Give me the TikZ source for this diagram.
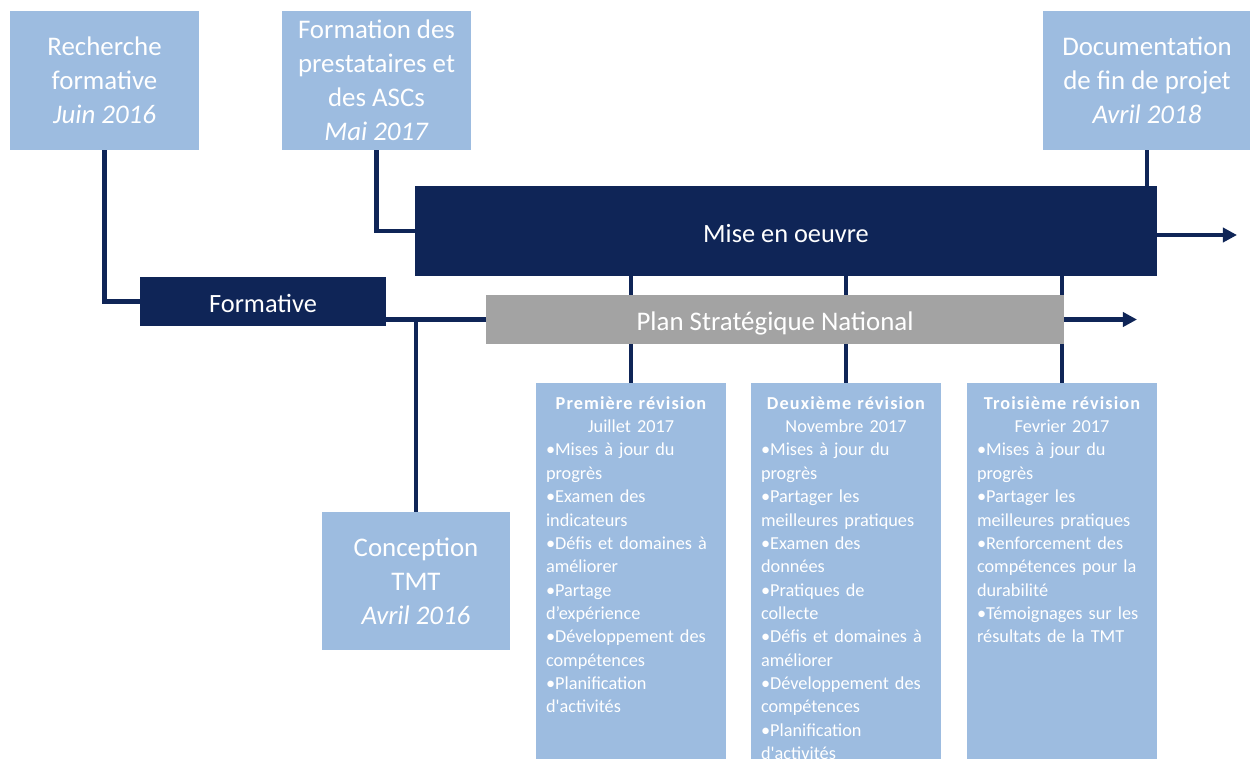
\documentclass[tikz,border=0pt]{standalone}
\usepackage{fontspec}
\setmainfont{Carlito}
\usetikzlibrary{arrows.meta, calc}
\definecolor{navy}{HTML}{0F2557}
\definecolor{lightblue}{HTML}{9DBCE0}
\definecolor{plangray}{HTML}{A3A3A3}
\newcommand{\revtitle}[1]{{\bfseries\addfontfeature{LetterSpace=6}#1}}

\begin{document}
\begin{tikzpicture}[x=0.02cm, y=-0.02cm, >={Triangle[length=8pt,width=8pt]},
	event/.style={fill=lightblue, text=white, inner sep=0pt, align=center,
		minimum width=3.78cm, minimum height=2.78cm,
		font=\fontsize{15.3}{19.3}\selectfont},
	phase/.style={fill=navy, text=white, inner sep=0pt, text height=13pt, text depth=0pt,
		font=\fontsize{15}{18}\selectfont},
	revision/.style={fill=lightblue, text=white, anchor=north, align=left,
		text width=3.4cm, inner xsep=0.2cm, inner ysep=0.26cm, text depth=8cm,
		font=\fontsize{10.4}{13.3}\selectfont},
	link/.style={draw=navy, line width=2.4pt}]
	
	\useasboundingbox (0,0) rectangle (1250,758);
	\clip (0,0) rectangle (1250,758);
	
	%========================
	% Top: events
	%========================
	\node[event] (rech) at (104.5,80.5) {Recherche\\formative\\\textit{Juin 2016}};
	\node[event] (formp) at (376.5,80.5) {Formation des\\prestataires et\\des ASCs\\\textit{Mai 2017}};
	\node[event, minimum width=4.16cm] (doc) at (1147,80.5) {Documentation\\de fin de projet\\\textit{Avril 2018}};
	\node[event, minimum height=2.76cm] (conc) at (416,581) {Conception\\TMT\\\textit{Avril 2016}};
	
	%========================
	% Phases
	%========================
	\node[phase, minimum width=14.84cm, minimum height=1.8cm] (mise) at (786,231) {Mise en oeuvre};
	\node[phase, minimum width=4.92cm, minimum height=0.98cm] (form) at (263,301.5) {Formative};
	\node[phase, fill=plangray, minimum width=11.56cm, minimum height=0.98cm,
		font=\fontsize{15.3}{18}\selectfont] (plan) at (775,319.5) {Plan Stratégique National};
	
	%========================
	% Revisions
	%========================
	\node[revision] (rev1) at (631,383) {\centering\revtitle{Première révision}\\Juillet 2017\par
		\raggedright •Mises à jour du\\progrès\\•Examen des\\indicateurs\\•Défis et domaines à\\améliorer\\•Partage\\d’expérience\\•Développement des\\compétences\\•Planification\\d\textquotesingle activités};
	\node[revision] (rev2) at (846,383) {\centering\revtitle{Deuxième révision}\\Novembre 2017\par
		\raggedright •Mises à jour du\\progrès\\•Partager les\\meilleures pratiques\\•Examen des\\données\\•Pratiques de\\collecte\\•Défis et domaines à\\améliorer\\•Développement des\\compétences\\•Planification\\d\textquotesingle activités};
	\node[revision] (rev3) at (1062,383) {\centering\revtitle{Troisième révision}\\Fevrier 2017\par
		\raggedright •Mises à jour du\\progrès\\•Partager les\\meilleures pratiques\\•Renforcement des\\compétences pour la\\durabilité\\•Témoignages sur les\\résultats de la TMT};
	
	% connectors
	\coordinate (miseend) at (1237,235);
	\coordinate (planend) at (1137,319.5);
	\draw[link] (rech.south) |- (form.west);
	\draw[link] (formp.south) |- (mise.west);
	\draw[link] (doc.south) -- (doc.south |- mise.north);
	\draw[link] (form.east |- plan.west) -- (plan.west);
	\draw[link] (conc.north) -- (conc.north |- plan.west);
	\foreach \r in {rev1,rev2,rev3} {
		\draw[link] (\r.north |- mise.south) -- (\r.north |- plan.north);
		\draw[link] (\r.north |- plan.south) -- (\r.north);
	}
	\draw[link,->] (mise.east |- miseend) -- (miseend);
	\draw[link,->] (plan.east) -- (planend);
	
\end{tikzpicture}
\end{document}
